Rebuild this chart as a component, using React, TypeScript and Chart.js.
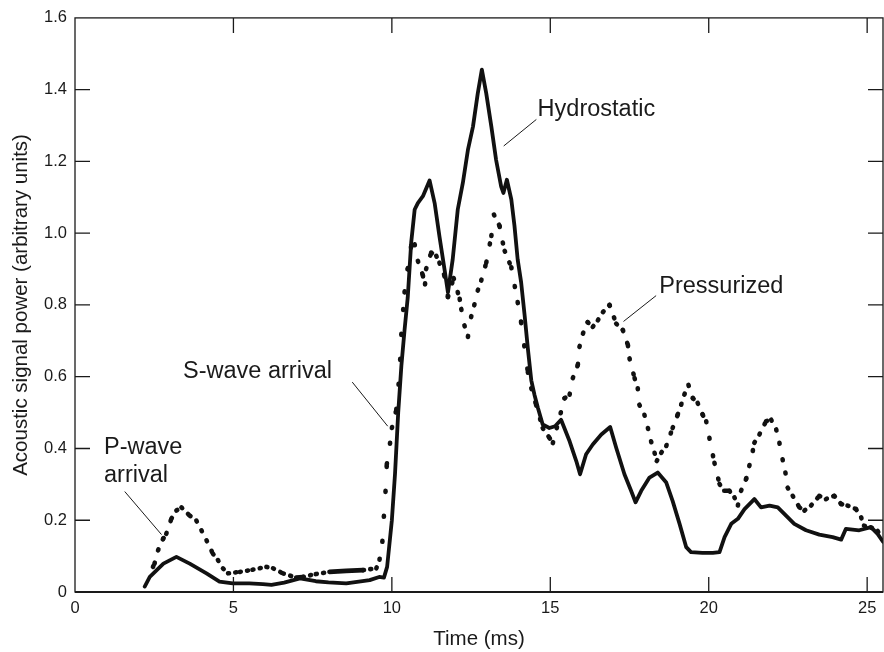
import React, { useEffect, useRef } from "react";
import { Chart, registerables } from "chart.js";

Chart.register(...registerables);

// ---- Data (time in ms, acoustic signal power in arbitrary units) ----
const hydroTime = [
  2.2, 2.36, 2.79, 3.2, 3.62, 4.15, 4.56, 4.98, 5.5, 5.93, 6.2, 6.6, 7.1, 7.6, 8.0, 8.56, 9.3, 9.6, 9.75,
  9.85, 10.0, 10.1, 10.2, 10.3, 10.4, 10.5, 10.61, 10.72, 10.82, 10.98, 11.19, 11.35, 11.5, 11.66, 11.77,
  11.92, 12.08, 12.24, 12.4, 12.56, 12.71, 12.84, 12.98, 13.14, 13.29, 13.45, 13.52, 13.63, 13.77, 13.87,
  13.97, 14.08, 14.19, 14.29, 14.4, 14.5, 14.61, 14.76, 14.97, 15.15, 15.34, 15.61, 15.82, 15.94, 16.13,
  16.34, 16.61, 16.89, 17.08, 17.34, 17.55, 17.69, 17.87, 18.13, 18.39, 18.66, 18.86, 19.08, 19.29, 19.44,
  19.8, 20.13, 20.34, 20.5, 20.71, 20.92, 21.13, 21.44, 21.65, 21.92, 22.18, 22.44, 22.7, 23.07, 23.49,
  23.91, 24.18, 24.33, 24.75, 25.12, 25.33, 25.5,
];
const hydroPower = [
  0.015, 0.042, 0.079, 0.098, 0.079, 0.052, 0.029, 0.024, 0.024, 0.022, 0.02, 0.026, 0.038, 0.03, 0.027,
  0.024, 0.033, 0.042, 0.04, 0.07, 0.2, 0.33, 0.5, 0.63, 0.73, 0.82, 0.974, 1.066, 1.084, 1.103, 1.147,
  1.084, 0.992, 0.9, 0.835, 0.927, 1.066, 1.14, 1.232, 1.297, 1.389, 1.456, 1.389, 1.297, 1.204, 1.13,
  1.112, 1.149, 1.094, 1.02, 0.927, 0.863, 0.771, 0.68, 0.59, 0.55, 0.513, 0.467, 0.457, 0.462, 0.48,
  0.42, 0.365, 0.328, 0.384, 0.411, 0.439, 0.46, 0.402, 0.328, 0.282, 0.25, 0.282, 0.319, 0.333, 0.305,
  0.254, 0.19, 0.125, 0.111, 0.109, 0.109, 0.111, 0.153, 0.19, 0.204, 0.231, 0.259, 0.236, 0.241, 0.236,
  0.213, 0.19, 0.172, 0.16, 0.153, 0.146, 0.176, 0.172, 0.181, 0.162, 0.14,
];

const pressTime = [
  2.46, 2.51, 2.62, 2.78, 2.88, 3.04, 3.2, 3.36, 3.62, 3.83, 3.99, 4.15, 4.35, 4.51, 4.67, 4.83, 5.2, 5.6,
  6.04, 6.25, 6.56, 6.98, 7.19, 7.6, 8.03, 8.56, 9.09, 9.51, 9.61, 9.7, 9.74, 9.8, 9.84, 9.94, 10.0, 10.14,
  10.22, 10.26, 10.3, 10.4, 10.5, 10.61, 10.72, 10.82, 10.98, 11.03, 11.08, 11.24, 11.4, 11.5, 11.66,
  11.77, 11.95, 12.14, 12.19, 12.29, 12.4, 12.5, 12.6, 12.71, 12.82, 12.98, 13.14, 13.22, 13.4, 13.5,
  13.56, 13.77, 13.97, 14.08, 14.29, 14.4, 14.55, 14.76, 14.97, 15.08, 15.45, 15.61, 15.71, 15.87, 15.92,
  16.03, 16.18, 16.34, 16.5, 16.66, 16.87, 17.08, 17.29, 17.45, 17.5, 17.66, 17.76, 17.81, 17.97, 18.08,
  18.18, 18.29, 18.36, 18.5, 18.66, 18.86, 19.02, 19.13, 19.23, 19.36, 19.5, 19.65, 19.81, 19.92, 20.02,
  20.18, 20.34, 20.49, 20.65, 20.81, 20.92, 21.02, 21.18, 21.28, 21.39, 21.44, 21.6, 21.81, 21.97, 22.13,
  22.23, 22.33, 22.42, 22.49, 22.65, 22.86, 23.02, 23.23, 23.49, 23.7, 23.96, 24.18, 24.38, 24.65, 24.81,
  24.9, 25.12, 25.33, 25.5,
];
const pressPower = [
  0.07, 0.079, 0.116, 0.148, 0.162, 0.204, 0.227, 0.236, 0.213, 0.199, 0.172, 0.144, 0.107, 0.089, 0.066,
  0.052, 0.056, 0.062, 0.07, 0.066, 0.052, 0.04, 0.042, 0.05, 0.056, 0.059, 0.061, 0.066, 0.09, 0.14, 0.2,
  0.28, 0.356, 0.413, 0.457, 0.508, 0.586, 0.642, 0.72, 0.835, 0.9, 0.965, 0.969, 0.923, 0.882, 0.835, 0.9,
  0.946, 0.937, 0.918, 0.882, 0.822, 0.875, 0.817, 0.789, 0.743, 0.711, 0.766, 0.799, 0.84, 0.868, 0.918,
  0.992, 1.052, 1.02, 0.974, 0.951, 0.905, 0.808, 0.752, 0.614, 0.568, 0.522, 0.457, 0.43, 0.415, 0.54,
  0.55, 0.596, 0.633, 0.683, 0.72, 0.752, 0.739, 0.757, 0.78, 0.8, 0.748, 0.73, 0.688, 0.651, 0.596, 0.568,
  0.522, 0.494, 0.457, 0.42, 0.388, 0.365, 0.388, 0.407, 0.457, 0.494, 0.522, 0.55, 0.577, 0.54, 0.527,
  0.494, 0.476, 0.43, 0.36, 0.301, 0.282, 0.282, 0.264, 0.241, 0.282, 0.315, 0.351, 0.393, 0.416, 0.439,
  0.476, 0.48, 0.453, 0.416, 0.37, 0.333, 0.291, 0.268, 0.236, 0.227, 0.241, 0.268, 0.259, 0.268, 0.245,
  0.241, 0.231, 0.208, 0.185, 0.18, 0.17, 0.15,
];

const xTicks = [0, 5, 10, 15, 20, 25];
const yTicks = [0, 0.2, 0.4, 0.6, 0.8, 1.0, 1.2, 1.4, 1.6];
const xMax = 25.5;
const yMax = 1.6;

// Annotation labels (anchored in data units): text lines, text start, leader line ends
const labelTexts = [["Hydrostatic"], ["Pressurized"], ["S-wave arrival"], ["P-wave", "arrival"]];
const labelAnchors = [[14.6, 1.326], [18.44, 0.833], [3.41, 0.596], [0.915, 0.385]];
const leaderFrom = [[14.56, 1.317], [18.34, 0.826], [8.75, 0.585], [1.57, 0.28]];
const leaderTo = [[13.53, 1.243], [17.31, 0.754], [9.87, 0.462], [2.73, 0.16]];

const FONT = "'Liberation Sans', Arial, Helvetica, sans-serif";
const INK = "#1a1a1a";

const framePlugin = {
  id: "frameTicks",
  afterDraw(chart: any) {
    const { ctx, chartArea: a, scales } = chart;
    ctx.save();
    ctx.strokeStyle = INK;
    ctx.lineWidth = 1.3;
    ctx.strokeRect(a.left, a.top, a.right - a.left, a.bottom - a.top);
    ctx.lineWidth = 1.8;
    ctx.beginPath();
    ctx.moveTo(a.left, a.bottom);
    ctx.lineTo(a.right, a.bottom);
    ctx.stroke();
    ctx.lineWidth = 1.3;
    const L = 15;
    ctx.beginPath();
    for (const v of xTicks) {
      const px = scales.x.getPixelForValue(v);
      if (px <= a.left + 1 || px >= a.right - 1) continue;
      ctx.moveTo(px, a.bottom);
      ctx.lineTo(px, a.bottom - L);
      ctx.moveTo(px, a.top);
      ctx.lineTo(px, a.top + L);
    }
    for (const v of yTicks) {
      const py = scales.y.getPixelForValue(v);
      if (py >= a.bottom - 1 || py <= a.top + 1) continue;
      ctx.moveTo(a.left, py);
      ctx.lineTo(a.left + L, py);
      ctx.moveTo(a.right, py);
      ctx.lineTo(a.right - L, py);
    }
    ctx.stroke();
    ctx.restore();
  },
};

const labelPlugin = {
  id: "arrowLabels",
  afterDatasetsDraw(chart: any) {
    const { ctx, scales } = chart;
    const X = (v: number) => scales.x.getPixelForValue(v);
    const Y = (v: number) => scales.y.getPixelForValue(v);
    ctx.save();
    ctx.fillStyle = INK;
    ctx.strokeStyle = INK;
    ctx.lineWidth = 1;
    ctx.font = `23.5px ${FONT}`;
    ctx.textAlign = "left";
    ctx.textBaseline = "alphabetic";
    labelTexts.forEach((lines, i) => {
      const [ax, ay] = labelAnchors[i];
      lines.forEach((t, j) => ctx.fillText(t, X(ax), Y(ay) + j * 28.3));
      ctx.beginPath();
      ctx.moveTo(X(leaderFrom[i][0]), Y(leaderFrom[i][1]));
      ctx.lineTo(X(leaderTo[i][0]), Y(leaderTo[i][1]));
      ctx.stroke();
    });
    ctx.restore();
  },
};

export default function App() {
  const ref = useRef<HTMLCanvasElement | null>(null);

  useEffect(() => {
    if (!ref.current) return;
    const hydro = hydroTime.map((t, i) => ({ x: t, y: hydroPower[i] }));
    const press = pressTime.map((t, i) => ({ x: t, y: pressPower[i] }));

    const chart = new Chart(ref.current, {
      type: "line",
      data: {
        datasets: [
          {
            label: "Hydrostatic",
            data: hydro,
            borderColor: "#111",
            borderWidth: 3.8,
            pointRadius: 0,
            tension: 0,
            borderJoinStyle: "round",
            borderCapStyle: "round",
          },
          {
            label: "Pressurized",
            data: press,
            borderColor: "#111",
            borderWidth: 4.6,
            pointRadius: 0,
            tension: 0,
            borderCapStyle: "round",
            borderJoinStyle: "round",
            segment: {
              borderDash: (c: any) => {
                const dx = Math.abs(c.p1.x - c.p0.x);
                const dy = Math.abs(c.p1.y - c.p0.y);
                const s = dy / Math.max(dx, 0.01);
                if (s < 0.12) return [];
                return [1, Math.min(24, 6 + 2.2 * s)];
              },
            },
          },
        ],
      },
      options: {
        responsive: false,
        animation: false,
        events: [],
        layout: { padding: { top: 14, right: 1, left: 0, bottom: 0 } },
        plugins: { legend: { display: false }, tooltip: { enabled: false } },
        scales: {
          x: {
            type: "linear",
            min: 0,
            max: xMax,
            afterBuildTicks: (s: any) => {
              s.ticks = xTicks.map((v) => ({ value: v }));
            },
            afterFit: (s: any) => {
              s.height = 60;
            },
            grid: { display: false, drawTicks: false },
            border: { display: false },
            ticks: {
              color: INK,
              padding: 7,
              maxRotation: 0,
              font: { family: FONT, size: 16.5 },
              callback: (v: any) => String(v),
            },
            title: {
              display: true,
              text: "Time (ms)",
              color: INK,
              font: { family: FONT, size: 20.5 },
              padding: { top: 0, bottom: 0 },
            },
          },
          y: {
            type: "linear",
            min: 0,
            max: yMax,
            afterBuildTicks: (s: any) => {
              s.ticks = yTicks.map((v) => ({ value: v }));
            },
            afterFit: (s: any) => {
              s.width = 75;
            },
            grid: { display: false, drawTicks: false },
            border: { display: false },
            ticks: {
              color: INK,
              padding: 8,
              font: { family: FONT, size: 16.5 },
              callback: (v: any) => (v === 0 ? "0" : Number(v).toFixed(1)),
            },
            title: {
              display: true,
              text: "Acoustic signal power (arbitrary units)",
              color: INK,
              font: { family: FONT, size: 20.5 },
              padding: { top: 9, bottom: 0 },
            },
          },
        },
      },
      plugins: [framePlugin, labelPlugin],
    });
    return () => chart.destroy();
  }, []);

  return (
    <div style={{ position: "absolute", left: 0, top: 0, width: 884, height: 652, background: "#fff" }}>
      <canvas ref={ref} width={884} height={652} style={{ display: "block", width: 884, height: 652 }} />
    </div>
  );
}
